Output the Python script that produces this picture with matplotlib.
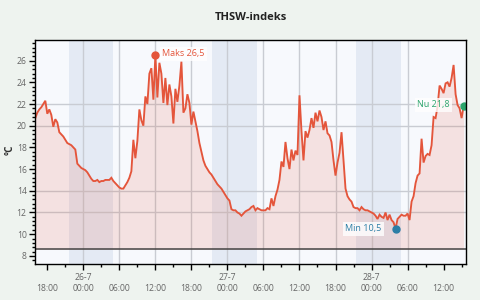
import matplotlib
matplotlib.use("Agg")
import matplotlib.pyplot as plt
import matplotlib.dates as mdates
from matplotlib.ticker import AutoMinorLocator, FuncFormatter, FixedLocator
import pandas as pd
import numpy as np

plt.rcParams['font.family'] = ['Open Sans', 'DejaVu Sans']

# ---- data ----
start_time = "2024-07-25 16:00"
step = "20min"
thsw = [
    20.7, 21.2, 21.5, 21.7, 22.0, 22.3, 21.1, 21.5, 21.0, 19.9,
    20.6, 20.3, 19.4, 19.2, 19.0, 18.7, 18.4, 18.3, 18.2, 18.0,
    17.8, 16.5, 16.3, 16.1, 16.0, 15.9, 15.7, 15.4, 15.1, 14.9,
    14.9, 15.0, 14.8, 14.9, 14.9, 15.0, 15.0, 15.0, 15.2, 14.9,
    14.7, 14.5, 14.3, 14.2, 14.2, 14.5, 14.8, 15.2, 15.8, 18.7,
    17.0, 18.6, 21.5, 20.5, 20.0, 22.7, 22.0, 24.8, 25.3, 22.4,
    26.5, 22.6, 25.8, 24.8, 22.1, 24.4, 21.9, 23.8, 22.7, 20.2,
    23.4, 22.2, 23.7, 25.9, 21.2, 21.6, 22.9, 22.1, 20.1, 21.3,
    20.4, 19.5, 18.4, 17.6, 16.8, 16.3, 16.0, 15.7, 15.5, 15.2,
    14.9, 14.6, 14.4, 14.2, 13.9, 13.6, 13.3, 13.1, 12.3, 12.2,
    12.2, 12.0, 11.9, 11.7, 11.9, 12.1, 12.2, 12.3, 12.5, 12.6,
    12.2, 12.4, 12.3, 12.2, 12.2, 12.2, 12.4, 12.3, 13.3, 12.6,
    13.5, 14.1, 15.0, 16.7, 16.2, 18.5, 17.0, 16.0, 17.8, 16.8,
    17.7, 17.3, 22.8, 19.5, 16.8, 19.5, 18.9, 19.6, 20.7, 19.8,
    21.2, 20.4, 21.4, 20.8, 19.6, 20.4, 19.3, 19.1, 18.5, 16.8,
    15.4, 16.6, 17.5, 19.4, 16.8, 14.2, 13.5, 13.2, 13.0, 12.5,
    12.4, 12.4, 12.2, 12.5, 12.3, 12.2, 12.2, 12.1, 12.0, 11.9,
    11.7, 11.4, 11.8, 11.6, 11.5, 12.0, 11.3, 11.8, 11.3, 11.1,
    10.5, 11.4, 11.6, 11.8, 11.7, 11.7, 11.9, 11.3, 13.0, 13.5,
    14.7, 15.4, 15.6, 18.8, 16.6, 17.2, 17.4, 17.3, 18.2, 20.8,
    20.7, 21.8, 23.7, 23.4, 23.0, 23.9, 24.0, 23.6, 24.4, 25.6,
    22.9, 21.9, 21.6, 20.7, 21.8,
]
night_starts = ["2024-07-25 21:37", "2024-07-26 21:30", "2024-07-27 21:24"]
night_ends = ["2024-07-26 05:00", "2024-07-27 04:54", "2024-07-28 04:54"]
h_grid_values = [12, 14, 20, 22]
baseline = 8.6
title = "THSW-indeks"
y_label = "°C"
max_label = "Maks 26,5"
min_label = "Min 10,5"
now_label = "Nu 21,8"

times = pd.date_range(start_time, periods=len(thsw), freq=step)
vals = np.array(thsw)

# ---- colors ----
fig_bg = "#eef3ef"
ax_bg = "#f7f9fd"
band_c = "#e4eaf4"
line_c = "#e4553b"
grid_c = "#c9ccd3"
max_c = "#e4553b"
min_c = "#2b7ea6"
now_c = "#2ba56c"
lab_c = "#666666"

fig = plt.figure(figsize=(4.8, 3.0), dpi=100, facecolor=fig_bg)
ax = fig.add_axes([35/480, 36/300, 431/480, 224/300])
ax.set_facecolor(ax_bg)

x0 = pd.Timestamp("2024-07-25 15:57")
x1 = pd.Timestamp("2024-07-28 15:44")
ax.set_xlim(x0, x1)
ax.set_ylim(7.25, 27.9)

for s, e in zip(night_starts, night_ends):
    ax.axvspan(pd.Timestamp(s), pd.Timestamp(e), color=band_c, lw=0, zorder=0.5)

for v in h_grid_values:
    ax.axhline(v, color=grid_c, lw=1, zorder=1)
for t in pd.date_range("2024-07-26 00:00", "2024-07-28 06:00", freq="6h"):
    ax.axvline(t, color=grid_c, lw=1, zorder=1)

ax.fill_between(times, vals, baseline, color=line_c, alpha=0.14, lw=0, zorder=2)
ax.plot(times, vals, color=line_c, lw=1.35, zorder=3, solid_joinstyle='miter')
ax.axhline(baseline, color="#444444", lw=1.1, zorder=3)

imax = int(np.argmax(vals))
imin = int(np.argmin(vals))
ilast = len(vals) - 1
ax.plot(times[imax], vals[imax], 'o', color=max_c, ms=5, zorder=5)
ax.plot(times[imin], vals[imin], 'o', color=min_c, ms=5, zorder=5)
ax.plot(times[ilast], vals[ilast], 'o', color=now_c, ms=5, zorder=5)

bbox = dict(boxstyle="square,pad=0.25", fc="white", ec="none", alpha=0.8)
ax.annotate(max_label, (times[imax], vals[imax]), xytext=(5, 1), textcoords="offset points",
            ha="left", va="center", fontsize=6.5, color=max_c, bbox=bbox, zorder=6)
ax.annotate(min_label, (times[imin], vals[imin]), xytext=(-10, 0), textcoords="offset points",
            ha="right", va="center", fontsize=6.5, color=min_c, bbox=bbox, zorder=6)
ax.annotate(now_label, (times[ilast], vals[ilast]), xytext=(-10, 1), textcoords="offset points",
            ha="right", va="center", fontsize=6.5, color=now_c, bbox=bbox, zorder=6)

# axes styling
for sp in ax.spines.values():
    sp.set_color("black")
    sp.set_linewidth(1.0)
    sp.set_zorder(7)

ax.xaxis.set_major_locator(mdates.HourLocator(byhour=[0, 6, 12, 18]))
ax.xaxis.set_minor_locator(mdates.HourLocator(byhour=[3, 9, 15, 21]))

def xfmt(x, pos):
    d = mdates.num2date(x)
    if d.hour == 0:
        return f"{d.day}-{d.month}\n{d:%H:%M}"
    return f"\n{d:%H:%M}"

ax.xaxis.set_major_formatter(FuncFormatter(xfmt))
ax.yaxis.set_major_locator(FixedLocator(list(range(8, 27, 2))))
ax.yaxis.set_minor_locator(AutoMinorLocator(5))

ax.tick_params(axis="x", which="major", length=4, width=1, colors="black",
               labelcolor=lab_c, labelsize=6.2, pad=2.5)
ax.tick_params(axis="x", which="minor", length=2.5, width=1, colors="black")
ax.tick_params(axis="y", which="major", length=4, width=1, colors="black",
               labelcolor=lab_c, labelsize=6.2, pad=2)
ax.tick_params(axis="y", which="minor", length=2.5, width=1, colors="black")
for lbl in ax.get_xticklabels():
    lbl.set_linespacing(1.25)

fig.text((35 + 466) / 2 / 480, 1 - 18 / 300, title, ha="center", va="center",
         fontsize=8, fontweight="bold", color="#222222")
fig.text(10 / 480, 1 - 150 / 300, y_label, rotation=90, ha="center", va="center",
         fontsize=7, fontweight="bold", color="#333333")

fig.savefig("out.png", dpi=100, facecolor=fig_bg)
